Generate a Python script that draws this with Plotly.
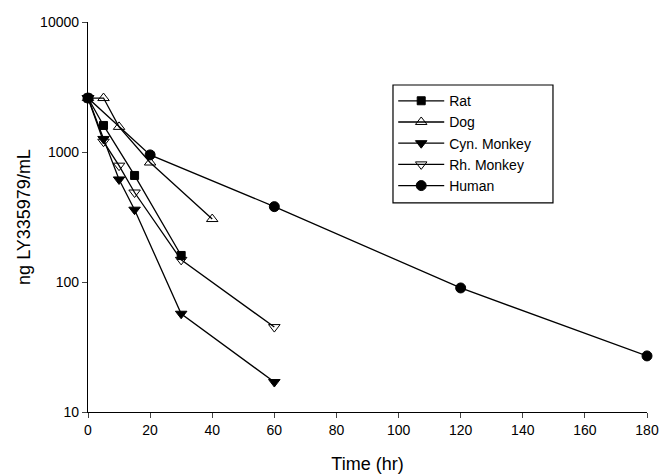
import plotly.graph_objects as go

series_names = ["Rat", "Dog", "Cyn. Monkey", "Rh. Monkey", "Human"]
rat_t = [0, 5, 15, 30]
rat_c = [2600, 1600, 660, 160]
dog_t = [0, 5, 10, 20, 40]
dog_c = [2600, 2600, 1560, 830, 305]
cyn_t = [0, 5, 10, 15, 30, 60]
cyn_c = [2600, 1260, 615, 360, 57, 17]
rh_t = [0, 5, 10, 15, 30, 60]
rh_c = [2600, 1200, 785, 488, 148, 45]
hum_t = [0, 20, 60, 120, 180]
hum_c = [2600, 950, 380, 90, 27]

x_ticks = [0, 20, 40, 60, 80, 100, 120, 140, 160, 180]
y_ticks = [10, 100, 1000, 10000]

data = [
    (rat_t, rat_c, "square", "black", 8),
    (dog_t, dog_c, "triangle-up-open", "black", 10),
    (cyn_t, cyn_c, "triangle-down", "black", 10),
    (rh_t, rh_c, "triangle-down-open", "black", 10),
    (hum_t, hum_c, "circle", "black", 10),
]

fig = go.Figure()
for name, (t, c, sym, col, sz) in zip(series_names, data):
    fig.add_trace(go.Scatter(
        x=t, y=c, name=name, mode="lines+markers",
        line=dict(color="black", width=1.3),
        marker=dict(symbol=sym, size=sz, color=col,
                    line=dict(color="black", width=1)),
        cliponaxis=False,
    ))

# legend frame (wider than plotly's auto-sized legend box)
fig.add_shape(
    type="rect", xref="paper", yref="paper",
    x0=0.5456, x1=0.8318, y0=0.536, y1=0.8385,
    line=dict(color="black", width=1.2), fillcolor="white", layer="above",
)

font = "Liberation Sans, Arial, sans-serif"
fig.update_layout(
    width=661, height=475,
    margin=dict(l=88, r=14, t=22, b=63),
    paper_bgcolor="white", plot_bgcolor="white",
    font=dict(family=font, size=14, color="black"),
    showlegend=True,
    legend=dict(
        x=0.546, y=0.838, xanchor="left", yanchor="top",
        borderwidth=0,
        bgcolor="rgba(0,0,0,0)",
        font=dict(size=14),
        tracegroupgap=0,
        itemwidth=46,
    ),
    xaxis=dict(
        range=[0, 180], tickvals=x_ticks, ticks="outside", ticklen=5,
        showline=True, linecolor="black", linewidth=1.3,
        showgrid=False, zeroline=False, automargin=False,
        title=dict(text="Time (hr)", standoff=20, font=dict(size=18)),
        tickfont=dict(size=14),
    ),
    yaxis=dict(
        type="log", range=[1, 4], tickvals=y_ticks,
        ticktext=[str(v) for v in y_ticks],
        ticks="outside", ticklen=5,
        showline=True, linecolor="black", linewidth=1.3,
        showgrid=False, zeroline=False, automargin=False,
        title=dict(text="ng LY335979/mL", standoff=4, font=dict(size=18)),
        tickfont=dict(size=14),
    ),
)

fig.write_html("out.html")
